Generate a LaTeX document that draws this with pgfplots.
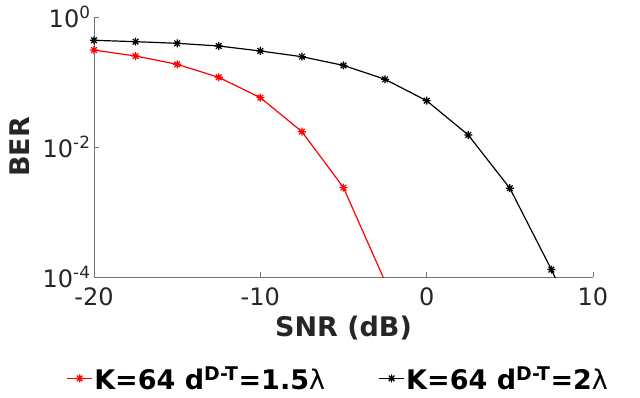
\documentclass[border=0pt]{standalone}
\usepackage{pgfplots}
\pgfplotsset{compat=1.18}
\usepackage{fontspec}
\setmainfont{DejaVu Sans}
\definecolor{axgray}{gray}{0.45}
\definecolor{txt}{gray}{0.15}
\pgfdeclareplotmark{mstar}{%
 \pgfpathmoveto{\pgfqpoint{-\pgfplotmarksize}{0pt}}\pgfpathlineto{\pgfqpoint{\pgfplotmarksize}{0pt}}%
 \pgfpathmoveto{\pgfqpoint{0pt}{-\pgfplotmarksize}}\pgfpathlineto{\pgfqpoint{0pt}{\pgfplotmarksize}}%
 \pgfpathmoveto{\pgfqpoint{-0.707\pgfplotmarksize}{-0.707\pgfplotmarksize}}\pgfpathlineto{\pgfqpoint{0.707\pgfplotmarksize}{0.707\pgfplotmarksize}}%
 \pgfpathmoveto{\pgfqpoint{-0.707\pgfplotmarksize}{0.707\pgfplotmarksize}}\pgfpathlineto{\pgfqpoint{0.707\pgfplotmarksize}{-0.707\pgfplotmarksize}}%
 \pgfusepathqstroke}
\begin{document}
\begin{tikzpicture}
\begin{axis}[
  at={(0pt,0pt)}, anchor=south west,
  scale only axis, width=499pt, height=260pt,
  ymode=log, xmin=-20, xmax=10, ymin=1e-4, ymax=1,
  axis x line*=bottom, axis y line*=left,
  axis line style={axgray, line width=0.8pt, -},
  xtick={-20,-10,0,10}, xticklabels={-20,-10,0,10},
  ytick={1e-4,1e-2,1}, yticklabels={10\textsuperscript{-4},10\textsuperscript{-2},10\textsuperscript{0}},
  tick align=inside, major tick length=5pt, minor tick length=3pt,
  tick style={axgray, line width=0.6pt},
  tick label style={font=\fontsize{24}{28}\selectfont, text=txt},
  xticklabel style={yshift=-7pt},
  xlabel={\bfseries SNR (dB)}, ylabel={\bfseries BER},
  label style={font=\fontsize{27}{32}\selectfont, text=txt},
  xlabel style={at={(axis description cs:0.5,-0.196)}, anchor=center},
  ylabel style={at={(axis description cs:-0.148,0.5)}, anchor=center},
  legend columns=2,
  legend image code/.code={\draw[mark repeat=2,mark phase=2] plot coordinates {(0pt,0pt) (12.5pt,0pt) (25pt,0pt)};},
  legend style={draw=none, fill=none, at={(0.489,-0.39)}, anchor=center,
    font=\fontsize{27}{32}\selectfont\bfseries,
    nodes={inner xsep=1.5pt, inner ysep=2pt},
    /tikz/every even column/.append style={column sep=52pt}},
  clip=true,
]
\addplot[red, line width=1.2pt, mark=mstar, mark size=4pt] coordinates {
 (-20,0.31) (-17.5,0.251) (-15,0.187) (-12.5,0.118) (-10,0.0575) (-7.5,0.0172) (-5,0.00237) (-2.5,0.000085)};
\addlegendentry{K=64 d\textsuperscript{D-T}=1.5{\mdseries λ}}
\addplot[black, line width=1.2pt, mark=mstar, mark size=4pt] coordinates {
 (-20,0.438) (-17.5,0.417) (-15,0.394) (-12.5,0.358) (-10,0.30) (-7.5,0.245) (-5,0.18) (-2.5,0.110) (0,0.0515) (2.5,0.0153) (5,0.00232) (7.5,0.00013) (10,0.0000056)};
\addlegendentry{K=64 d\textsuperscript{D-T}=2{\mdseries λ}}
\end{axis}
\pgfresetboundingbox
\useasboundingbox (-94pt,-121pt) rectangle (546pt,277pt);
\end{tikzpicture}
\end{document}
